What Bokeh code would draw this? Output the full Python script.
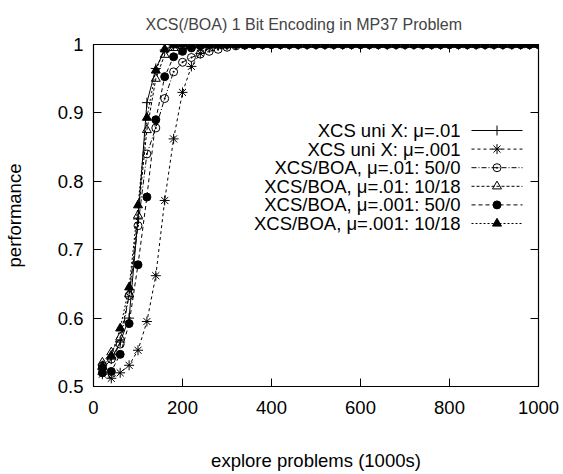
from bokeh.plotting import figure
from bokeh.models import FixedTicker, Label, LinearAxis, Range1d
from bokeh.embed import file_html
from bokeh.resources import INLINE

FONT = "Liberation Sans"

# ---------------- data ----------------
x_vals = list(range(20, 1001, 20))  # explore problems (1000s)

xcs_uni_01 = [
    0.525, 0.540, 0.565, 0.600, 0.745, 0.915, 0.965, 0.992, 0.998, 1.000,
    1.000, 1.000, 1.000, 1.000, 1.000, 1.000, 1.000, 1.000, 1.000, 1.000,
    1.000, 1.000, 1.000, 1.000, 1.000, 1.000, 1.000, 1.000, 1.000, 1.000,
    1.000, 1.000, 1.000, 1.000, 1.000, 1.000, 1.000, 1.000, 1.000, 1.000,
    1.000, 1.000, 1.000, 1.000, 1.000, 1.000, 1.000, 1.000, 1.000, 1.000,
]
xcs_uni_001 = [
    0.518, 0.512, 0.520, 0.531, 0.553, 0.595, 0.662, 0.772, 0.862, 0.930,
    0.968, 0.987, 0.995, 0.998, 0.999, 1.000, 1.000, 1.000, 1.000, 1.000,
    1.000, 1.000, 1.000, 1.000, 1.000, 1.000, 1.000, 1.000, 1.000, 1.000,
    1.000, 1.000, 1.000, 1.000, 1.000, 1.000, 1.000, 1.000, 1.000, 1.000,
    1.000, 1.000, 1.000, 1.000, 1.000, 1.000, 1.000, 1.000, 1.000, 1.000,
]
boa_01_50_0 = [
    0.530, 0.540, 0.562, 0.633, 0.735, 0.840, 0.878, 0.921, 0.960, 0.974,
    0.981, 0.986, 0.990, 0.993, 0.996, 0.998, 0.999, 1.000, 1.000, 1.000,
    1.000, 1.000, 1.000, 1.000, 1.000, 1.000, 1.000, 1.000, 1.000, 1.000,
    1.000, 1.000, 1.000, 1.000, 1.000, 1.000, 1.000, 1.000, 1.000, 1.000,
    1.000, 1.000, 1.000, 1.000, 1.000, 1.000, 1.000, 1.000, 1.000, 1.000,
]
boa_01_10_18 = [
    0.535, 0.550, 0.572, 0.635, 0.750, 0.875, 0.950, 0.985, 0.995, 0.998,
    0.999, 1.000, 1.000, 1.000, 1.000, 1.000, 1.000, 1.000, 1.000, 1.000,
    1.000, 1.000, 1.000, 1.000, 1.000, 1.000, 1.000, 1.000, 1.000, 1.000,
    1.000, 1.000, 1.000, 1.000, 1.000, 1.000, 1.000, 1.000, 1.000, 1.000,
    1.000, 1.000, 1.000, 1.000, 1.000, 1.000, 1.000, 1.000, 1.000, 1.000,
]
boa_001_50_0 = [
    0.520, 0.522, 0.547, 0.592, 0.678, 0.777, 0.890, 0.953, 0.982, 0.990,
    0.995, 0.998, 1.000, 1.000, 1.000, 1.000, 1.000, 1.000, 1.000, 1.000,
    1.000, 1.000, 1.000, 1.000, 1.000, 1.000, 1.000, 1.000, 1.000, 1.000,
    1.000, 1.000, 1.000, 1.000, 1.000, 1.000, 1.000, 1.000, 1.000, 1.000,
    1.000, 1.000, 1.000, 1.000, 1.000, 1.000, 1.000, 1.000, 1.000, 1.000,
]
boa_001_10_18 = [
    0.530, 0.545, 0.585, 0.645, 0.765, 0.893, 0.962, 0.993, 0.999, 1.000,
    1.000, 1.000, 1.000, 1.000, 1.000, 1.000, 1.000, 1.000, 1.000, 1.000,
    1.000, 1.000, 1.000, 1.000, 1.000, 1.000, 1.000, 1.000, 1.000, 1.000,
    1.000, 1.000, 1.000, 1.000, 1.000, 1.000, 1.000, 1.000, 1.000, 1.000,
    1.000, 1.000, 1.000, 1.000, 1.000, 1.000, 1.000, 1.000, 1.000, 1.000,
]

series_labels = [
    "XCS uni X: \u03bc=.01",
    "XCS uni X: \u03bc=.001",
    "XCS/BOA, \u03bc=.01: 50/0",
    "XCS/BOA, \u03bc=.01: 10/18",
    "XCS/BOA, \u03bc=.001: 50/0",
    "XCS/BOA, \u03bc=.001: 10/18",
]
series_values = [xcs_uni_01, xcs_uni_001, boa_01_50_0, boa_01_10_18,
                 boa_001_50_0, boa_001_10_18]

x_ticks = [0, 200, 400, 600, 800, 1000]
y_ticks = [0.5, 0.6, 0.7, 0.8, 0.9, 1.0]
y_tick_labels = ["0.5", "0.6", "0.7", "0.8", "0.9", "1"]
title_text = "XCS(/BOA) 1 Bit Encoding in MP37 Problem"

# ---------------- styles ----------------
styles = [
    dict(dash="solid", marker="cross", fill=None, size=10),
    dict(dash="3 3", marker="asterisk", fill=None, size=10),
    dict(dash="5 2 1 2", marker="circle_dot", fill=None, size=8),
    dict(dash="3 2", marker="triangle", fill=None, size=9),
    dict(dash="4 3", marker="circle", fill="black", size=8),
    dict(dash="2 2", marker="triangle", fill="black", size=9),
]

LBL = "18.5px"

p = figure(
    frame_width=445, frame_height=342,
    min_border_left=93, min_border_right=25,
    min_border_top=44, min_border_bottom=88,
    x_range=Range1d(0, 1000), y_range=Range1d(0.5, 1.0),
    output_backend="svg", toolbar_location=None,
    title=title_text,
    background_fill_color="white", border_fill_color="white",
)

p.title.text_font = FONT
p.title.text_font_size = "16px"
p.title.text_font_style = "normal"
p.title.align = "left"
p.title.offset = 52
p.title.standoff = 23

p.xgrid.visible = False
p.ygrid.visible = False
p.outline_line_color = "black"
p.outline_line_width = 1.2

for ax, ticks in ((p.xaxis[0], x_ticks), (p.yaxis[0], y_ticks)):
    ax.ticker = FixedTicker(ticks=ticks)
    ax.major_tick_in = 8
    ax.major_tick_out = 0
    ax.minor_tick_line_color = None
    ax.axis_line_color = "black"
    ax.major_tick_line_color = "black"
    ax.major_label_text_font = FONT
    ax.major_label_text_font_size = LBL
    ax.major_label_text_color = "black"
    ax.axis_label_text_font = FONT
    ax.axis_label_text_font_size = LBL
    ax.axis_label_text_font_style = "normal"
    ax.axis_label_text_color = "black"

p.xaxis.axis_label = "explore problems (1000s)"
p.xaxis.major_label_standoff = 14
p.xaxis.axis_label_standoff = 33
p.yaxis.axis_label = "performance"
p.yaxis.major_label_standoff = 10
p.yaxis.axis_label_standoff = 30
p.yaxis.major_label_overrides = {t: s for t, s in zip(y_ticks, y_tick_labels)}

# mirrored ticks on right and top
for loc, ticks in (("right", y_ticks), ("above", x_ticks)):
    ax = LinearAxis(ticker=FixedTicker(ticks=ticks))
    ax.major_tick_in = 8
    ax.major_tick_out = 0
    ax.minor_tick_line_color = None
    ax.major_label_text_font_size = "0px"
    ax.major_label_text_color = None
    ax.major_label_standoff = 0
    ax.axis_line_color = "black"
    p.add_layout(ax, loc)

# data series
for vals, st in zip(series_values, styles):
    p.line(x_vals, vals, line_color="black", line_width=1, line_dash=st["dash"])
    p.scatter(x_vals, vals, marker=st["marker"], size=st["size"],
              line_color="black", line_width=1,
              fill_color=st["fill"], fill_alpha=1 if st["fill"] else 0)

# ---------------- legend (gnuplot style, key on the right) ----------------
IMG_L, IMG_R, IMG_T, IMG_B = 93, 538, 44, 386


def px2x(px):
    return (px - IMG_L) / (IMG_R - IMG_L) * 1000


def py2y(py):
    return 0.5 + (IMG_B - py) / (IMG_B - IMG_T) * 0.5


for i, (lab, st) in enumerate(zip(series_labels, styles)):
    yy = py2y(130 + i * 18.6)
    p.add_layout(Label(x=px2x(460), y=yy, text=lab, text_align="right",
                       text_baseline="middle", text_font=FONT,
                       text_font_size=LBL, text_color="black"))
    p.line([px2x(471), px2x(522)], [yy, yy], line_color="black", line_width=1,
           line_dash=st["dash"])
    p.scatter([px2x(496.5)], [yy], marker=st["marker"], size=st["size"],
              line_color="black", line_width=1,
              fill_color=st["fill"], fill_alpha=1 if st["fill"] else 0)

open("out.html", "w").write(file_html(p, INLINE))
